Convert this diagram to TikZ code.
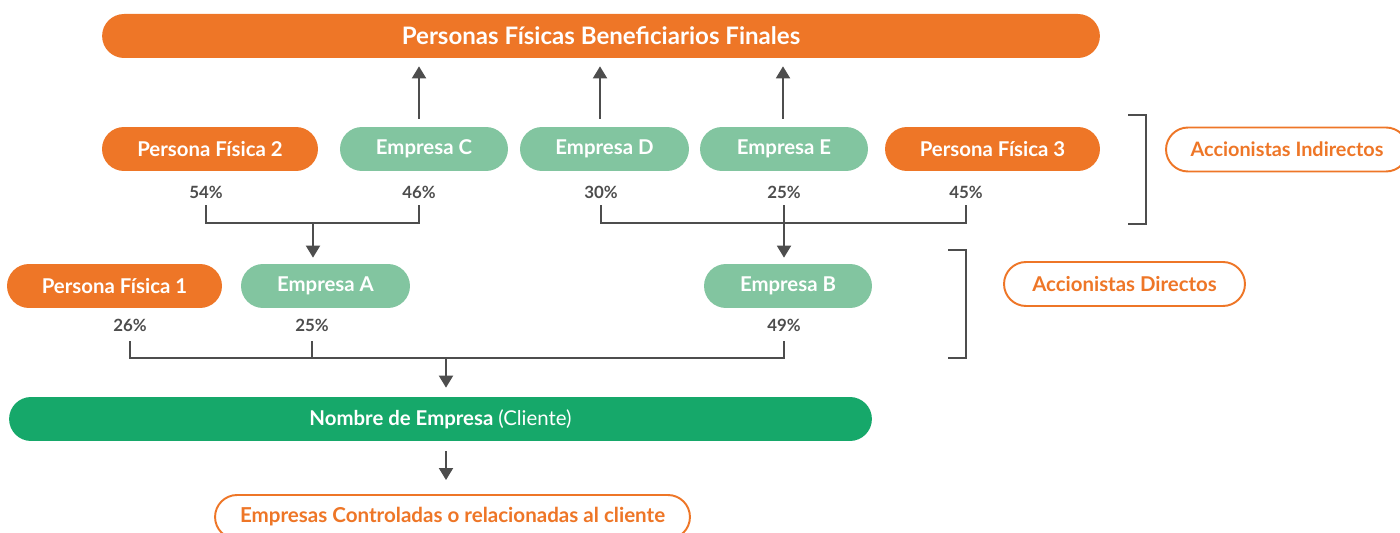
\documentclass[tikz,border=0pt]{standalone}
\usepackage{fontspec}
\setmainfont{Lato}
\usetikzlibrary{calc,arrows.meta}
\definecolor{orng}{HTML}{EE7627}
\definecolor{lgreen}{HTML}{82C5A0}
\definecolor{dgreen}{HTML}{16A86A}
\definecolor{gry}{HTML}{4D4D4D}
\tikzset{
  pill/.style={rectangle, rounded corners=0.44cm, minimum height=0.88cm, inner sep=0pt, text=white, font=\fontsize{11.6}{13}\selectfont\bfseries},
  orpill/.style={pill, fill=orng},
  grpill/.style={pill, fill=lgreen},
  outpill/.style={pill, fill=white, draw=orng, line width=1.1pt, text=orng},
  pct/.style={inner sep=0pt, minimum height=0.52cm, text=gry, font=\fontsize{9.6}{11}\selectfont\bfseries},
  conn/.style={draw=gry, line width=1.1pt},
  arr/.style={conn, -{Triangle[length=0.24cm,width=0.28cm]}},
}
\begin{document}
\begin{tikzpicture}[x=0.02cm,y=-0.02cm]
\clip (0,0) rectangle (1400,533);
\useasboundingbox (0,0) rectangle (1400,533);

\node[orpill, minimum width=19.96cm, font=\fontsize{13.7}{15}\selectfont\bfseries] (top) at (601,36) {Personas Físicas Beneficiarios Finales};

\node[orpill, minimum width=4.32cm] (pf2) at (210,149) {Persona Física 2};
\node[grpill, minimum width=3.36cm] (empC) at (424,149) {Empresa C};
\node[grpill, minimum width=3.38cm] (empD) at (604.5,149) {Empresa D};
\node[grpill, minimum width=3.36cm] (empE) at (784,149) {Empresa E};
\node[orpill, minimum width=4.30cm] (pf3) at (992.5,149) {Persona Física 3};

\draw[arr] ($(empC.north)+(-5,-8)$) -- ($(empC.north |- top.south)+(-5,8)$);
\draw[arr] ($(empD.north)+(-4.5,-8)$) -- ($(empD.north |- top.south)+(-4.5,8)$);
\draw[arr] ($(empE.north)+(-1,-8)$) -- ($(empE.north |- top.south)+(-1,8)$);

\node[pct] (p54) at (206,192) {54\%};
\node[pct] (p46) at (419,192) {46\%};
\node[pct] (p30) at (601,192) {30\%};
\node[pct] (p25) at (784,192) {25\%};
\node[pct] (p45) at (966,192) {45\%};

\node[orpill, minimum width=4.30cm] (pf1) at (114.5,286) {Persona Física 1};
\node[grpill, minimum width=3.38cm] (empA) at (325.5,286) {Empresa A};
\node[grpill, minimum width=3.36cm] (empB) at (788,286) {Empresa B};

\coordinate (j1) at (313,223);
\draw[conn] (p54.south) |- (j1) -| (p46.south);
\draw[arr] (j1) -- ($(empA.north -| j1)+(0,-6)$);
\draw[conn] (p30.south) |- (p45.south |- j1) -- (p45.south);
\draw[arr] (p25.south) -- ($(empB.north -| p25)+(0,-6)$);

\node[pct] (p26) at (130,325) {26\%};
\node[pct] (p25b) at (312,325) {25\%};
\node[pct] (p49) at (784,325) {49\%};

\node[pill, fill=dgreen, minimum width=17.26cm] (cli) at (440.5,419) {Nombre de Empresa \mdseries(Cliente)};

\coordinate (j2) at (446,358);
\draw[conn] ($(p26.south)+(0,3)$) |- (j2) -| ($(p49.south)+(0,3)$);
\draw[conn] ($(p25b.south)+(0,3)$) -- (p25b.south |- j2);
\draw[arr] (j2) -- ($(cli.north -| j2)+(0,-9)$);

\node[outpill, minimum width=9.5cm, font=\fontsize{11.7}{13}\selectfont\bfseries] (ctrl) at (452.5,517) {Empresas Controladas o relacionadas al cliente};
\draw[arr] ($(cli.south -| j2)+(0,10)$) -- ($(ctrl.north -| j2)+(0,-14)$);

\draw[conn] (1128,115) -- (1146,115) -- (1146,224) -- (1128,224);
\draw[conn] (948,250) -- (966,250) -- (966,358) -- (948,358);

\node[outpill, minimum width=4.84cm, font=\fontsize{11.3}{13}\selectfont\bfseries] (ind) at (1287,149.5) {Accionistas Indirectos};
\node[outpill, minimum width=4.82cm] (dir) at (1124.5,284) {Accionistas Directos};
\end{tikzpicture}
\end{document}
